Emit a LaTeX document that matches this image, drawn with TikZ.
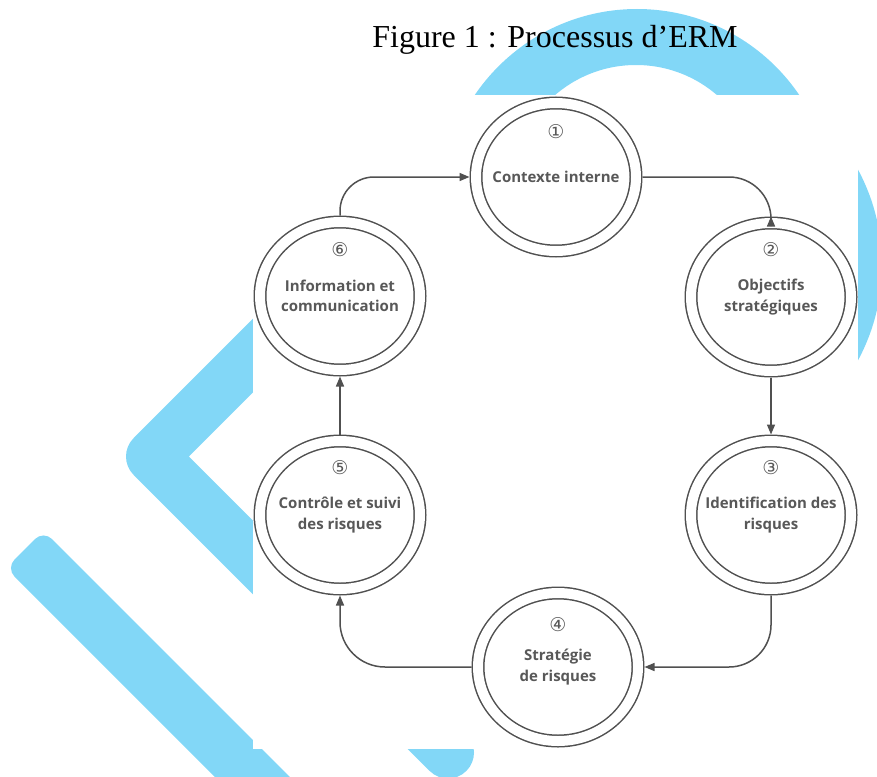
\documentclass[tikz,border=0pt]{standalone}
\usepackage{fontspec}
\setsansfont{Open Sans}
\newfontfamily\titlefont{Liberation Serif}
\newfontfamily\numfont{DejaVu Sans}
\usetikzlibrary{shapes.geometric,arrows.meta}

\definecolor{logoblue}{RGB}{130,215,247}
\definecolor{ringgray}{RGB}{80,80,80}
\definecolor{textgray}{RGB}{88,88,88}

\begin{document}
\begin{tikzpicture}[x=1pt, y=-1pt,
  ermring/.style={ellipse, draw=ringgray, line width=1.5pt, double=white,
    double distance=10pt, minimum width=160pt, minimum height=148pt,
    inner sep=0pt, outer sep=6.5pt},
  ermtext/.style={font=\sffamily\bfseries\fontsize{15}{20.5}\selectfont,
    text=textgray, align=center},
  ermnum/.style={font=\numfont\fontsize{19}{19}\selectfont, text=textgray},
  ermarrow/.style={draw=ringgray, line width=1.5pt,
    -{Triangle[length=10pt,width=8pt]}}]

  \useasboundingbox (0,0) rectangle (877,776);

  % logo behind the page
  \fill[logoblue, even odd rule] (637,205) circle (196pt)
                                 (636,189) circle (124pt);
  \begin{scope}
    \clip (858,0) rectangle (877,776);
    \fill[logoblue] (681,265) circle (201pt);
  \end{scope}
  \draw[logoblue, line width=52pt, line join=round, line cap=round]
    (420,188.5) -- (152,456.5) -- (448,752.5);
  \fill[logoblue, rounded corners=12pt]
    (6,568) -- (43.5,530.5) -- (500,987) -- (462.5,1024.5) -- cycle;

  \fill[white] (253,95) rectangle (858,749);

  \node[font=\titlefont\fontsize{32}{32}\selectfont, anchor=base] (title)
    at (555,48) {Figure 1 : Processus d’ERM};

  \node[ermring] (c1) at (556,177) {};
  \node[ermring] (c2) at (771,297) {};
  \node[ermring] (c3) at (771,515) {};
  \node[ermring] (c4) at (558,667) {};
  \node[ermring] (c5) at (340,515) {};
  \node[ermring] (c6) at (340,296) {};

  \node[ermnum] (n1) at (556,132) {①};
  \node[ermnum] (n2) at (771,250) {②};
  \node[ermnum] (n3) at (771,468) {③};
  \node[ermnum] (n4) at (558,625) {④};
  \node[ermnum] (n5) at (340,468) {⑤};
  \node[ermnum] (n6) at (340,250) {⑥};

  \node[ermtext] (t1) at (556,177) {Contexte interne};
  \node[ermtext] (t2) at (771,297) {Objectifs\\stratégiques};
  \node[ermtext] (t3) at (771,515) {Identification des\\risques};
  \node[ermtext] (t4) at (558,667) {Stratégie\\de risques};
  \node[ermtext] (t5) at (340,515) {Contrôle et suivi\\des risques};
  \node[ermtext] (t6) at (340,296) {Information et\\communication};

  \draw[ermarrow, rounded corners=34pt] (c6.north) |- (c1.west);
  \draw[ermarrow, rounded corners=42pt] (c1.east) -| (c2.north);
  \draw[ermarrow] (c2.south) -- (c3.north);
  \draw[ermarrow, rounded corners=42pt] (c3.south) |- (c4.east);
  \draw[ermarrow, rounded corners=45pt] (c4.west) -| (c5.south);
  \draw[ermarrow] (c5.north) -- (c6.south);

\end{tikzpicture}
\end{document}
